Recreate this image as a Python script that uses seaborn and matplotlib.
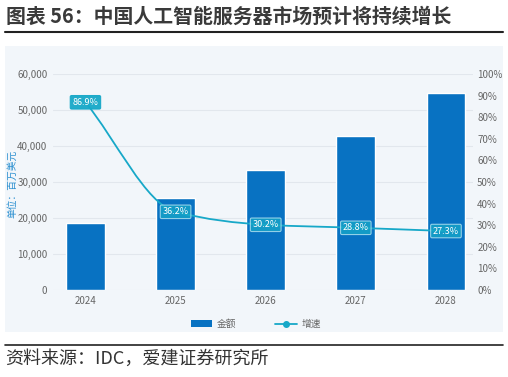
import numpy as np
import pandas as pd
import matplotlib
matplotlib.use("Agg")
import matplotlib.pyplot as plt
import seaborn as sns
from matplotlib.patches import Rectangle, Patch, PathPatch
from matplotlib.lines import Line2D
from matplotlib.path import Path

# 数据
years = ["2024", "2025", "2026", "2027", "2028"]
amount = [18700, 25500, 33300, 42900, 54600]   # 金额 百万美元
growth = [86.9, 36.2, 30.2, 28.8, 27.3]        # 增速 %

sns.set_theme(style="white")
plt.rcParams["font.family"] = ["Noto Sans CJK SC", "DejaVu Sans"]
plt.rcParams["axes.unicode_minus"] = False

BAR = "#0872c2"
LINE = "#17a8c8"
PANEL = "#f2f6fa"
GRID = "#e2e7ed"
TICK = "#666666"

W, H = 508, 377
fig = plt.figure(figsize=(W / 100, H / 100), dpi=100)

# 背景面板和分隔线
fig.add_artist(Rectangle((5 / W, 1 - 332 / H), 498 / W, 286 / H,
                         transform=fig.transFigure, facecolor=PANEL,
                         edgecolor="none", zorder=-10))
fig.add_artist(Line2D([5 / W, 503 / W], [1 - 32 / H, 1 - 32 / H],
                      color="#222222", lw=1.5, transform=fig.transFigure))
fig.add_artist(Line2D([5 / W, 503 / W], [1 - 345 / H, 1 - 345 / H],
                      color="#222222", lw=1.2, transform=fig.transFigure))

fig.text(6 / W, 1 - 16 / H, "图表 56：中国人工智能服务器市场预计将持续增长",
         fontsize=14.3, fontweight="bold", color="#3a3a3a", va="center", ha="left")
fig.text(5 / W, 1 - 359 / H, "资料来源：IDC，爱建证券研究所",
         fontsize=13, color="#333333", va="center", ha="left")

ax = fig.add_axes([53 / W, 1 - 290 / H, 420 / W, 216 / H])
ax.set_facecolor("none")

df = pd.DataFrame({"year": years, "amount": amount, "growth": growth})
sns.barplot(data=df, x="year", y="amount", color=BAR, width=0.43,
            saturation=1, ax=ax, zorder=2)
ax.set_xlim(-0.36, 4.3)
ax.set_ylim(0, 60000)
ax.set_yticks(range(0, 60001, 10000))
ax.set_yticklabels([f"{v:,}" for v in range(0, 60001, 10000)])
ax.yaxis.grid(True, color=GRID, lw=0.8, zorder=0)
ax.set_axisbelow(True)
ax.set_xlabel("")
ax.set_ylabel("单位：百万美元", color="#2a8fd0", fontsize=7)
ax.yaxis.set_label_coords(-0.085, 0.49)
ax.tick_params(axis="both", length=0, labelsize=7, colors=TICK, pad=4)
for s in ax.spines.values():
    s.set_visible(False)

ax2 = ax.twinx()
ax2.set_ylim(0, 100)
ax2.set_yticks(range(0, 101, 10))
ax2.set_yticklabels([f"{v}%" for v in range(0, 101, 10)])
ax2.tick_params(axis="y", length=0, labelsize=7, colors=TICK, pad=3)
for s in ax2.spines.values():
    s.set_visible(False)

# 平滑曲线（单调三次贝塞尔）
x = np.arange(len(growth), dtype=float)
y = np.array(growth, dtype=float)
d = np.diff(y)
m = np.zeros_like(y)
m[0], m[-1] = d[0], d[-1]
for i in range(1, len(y) - 1):
    m[i] = 0 if d[i - 1] * d[i] <= 0 else 2 / (1 / d[i - 1] + 1 / d[i])
verts = [(x[0], y[0])]
codes = [Path.MOVETO]
for i in range(len(y) - 1):
    verts += [(x[i] + 1 / 3, y[i] + m[i] / 3),
              (x[i + 1] - 1 / 3, y[i + 1] - m[i + 1] / 3),
              (x[i + 1], y[i + 1])]
    codes += [Path.CURVE4] * 3
ax2.add_patch(PathPatch(Path(verts, codes), facecolor="none",
                        edgecolor=LINE, lw=1.3, zorder=3))

for i, g in enumerate(growth):
    first = i == 0
    ax2.text(i, g, f"{g:.1f}%", ha="center", va="center", fontsize=6.5,
             color="white", zorder=5,
             bbox=dict(boxstyle="round,pad=0.25,rounding_size=0.15",
                       facecolor=LINE, alpha=0.95 if first else 0.75,
                       edgecolor=LINE if first else "#bfeaf4", lw=0.8))

handles = [Patch(facecolor=BAR, edgecolor="none"),
           Line2D([], [], color=LINE, lw=1.3, marker="o", markersize=4)]
fig.legend(handles, ["金额", "增速"], loc="center",
           bbox_to_anchor=(256 / W, 1 - 324 / H), ncol=2, frameon=False,
           fontsize=7, labelcolor=TICK, handlelength=2.2, handleheight=0.6,
           columnspacing=4.0, handletextpad=0.5)

fig.savefig("out.png", dpi=100)
